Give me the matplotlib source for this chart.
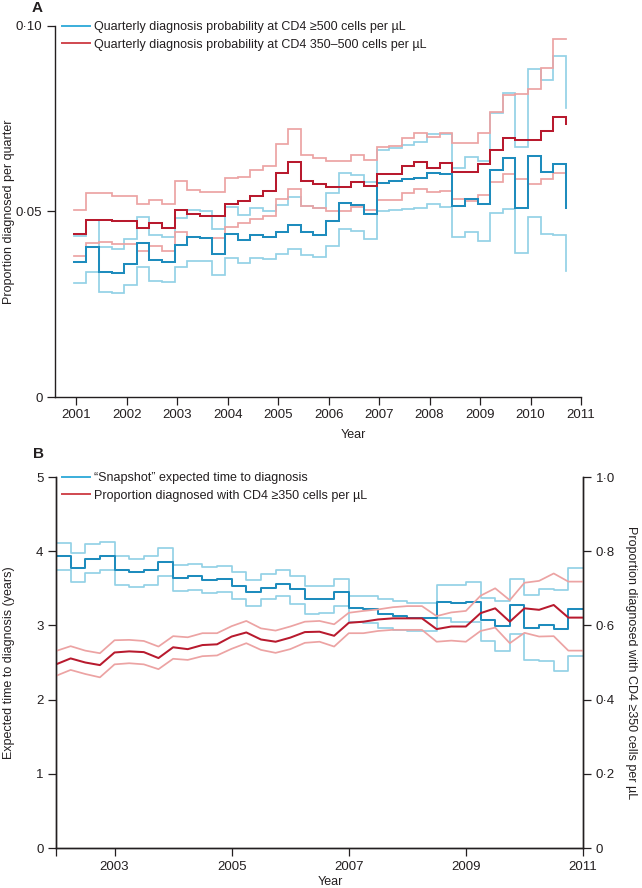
import numpy as np
import matplotlib
matplotlib.use("Agg")
import matplotlib.pyplot as plt
from matplotlib.lines import Line2D

plt.rcParams['font.family'] = ['Liberation Sans Narrow', 'Liberation Sans', 'DejaVu Sans']
FS_TICK = 9.5
FS = 9

# ---------------- Panel A data (quarterly, 2001 Q1 .. 2010 Q3) ----------------
first_quarter_A = 2000.95
# last element of each list = value at the end stub of the step line
cd4_500_est = [0.0365, 0.0403, 0.0338, 0.0333, 0.0358, 0.0414, 0.0369, 0.0365, 0.0410, 0.0430,
               0.0428, 0.0385, 0.0439, 0.0422, 0.0438, 0.0432, 0.0446, 0.0464, 0.0446, 0.0438,
               0.0475, 0.0522, 0.0518, 0.0492, 0.0576, 0.0582, 0.0587, 0.0589, 0.0605, 0.0601,
               0.0516, 0.0535, 0.0520, 0.0612, 0.0643, 0.0509, 0.0650, 0.0607, 0.0627, 0.0509]
cd4_500_hi = [0.0434, 0.0477, 0.0405, 0.0398, 0.0425, 0.0486, 0.0437, 0.0430, 0.0482, 0.0504,
              0.0500, 0.0452, 0.0512, 0.0491, 0.0509, 0.0500, 0.0518, 0.0538, 0.0515, 0.0509,
              0.0549, 0.0605, 0.0598, 0.0580, 0.0666, 0.0670, 0.0680, 0.0688, 0.0708, 0.0708,
              0.0616, 0.0648, 0.0637, 0.0766, 0.0820, 0.0675, 0.0884, 0.0854, 0.0920, 0.0780]
cd4_500_lo = [0.0306, 0.0338, 0.0284, 0.0281, 0.0302, 0.0351, 0.0314, 0.0309, 0.0351, 0.0367,
              0.0367, 0.0329, 0.0376, 0.0360, 0.0376, 0.0372, 0.0385, 0.0399, 0.0383, 0.0378,
              0.0408, 0.0452, 0.0447, 0.0425, 0.0500, 0.0504, 0.0508, 0.0509, 0.0519, 0.0511,
              0.0430, 0.0444, 0.0421, 0.0495, 0.0506, 0.0387, 0.0486, 0.0439, 0.0437, 0.0340]
cd4_350_est = [0.0440, 0.0476, 0.0478, 0.0474, 0.0474, 0.0455, 0.0469, 0.0455, 0.0505, 0.0492,
               0.0489, 0.0489, 0.0519, 0.0528, 0.0543, 0.0555, 0.0604, 0.0633, 0.0582, 0.0573,
               0.0565, 0.0565, 0.0579, 0.0568, 0.0600, 0.0600, 0.0622, 0.0633, 0.0618, 0.0631,
               0.0606, 0.0606, 0.0628, 0.0667, 0.0699, 0.0692, 0.0692, 0.0718, 0.0755, 0.0737]
cd4_350_hi = [0.0505, 0.0550, 0.0550, 0.0541, 0.0541, 0.0519, 0.0531, 0.0519, 0.0581, 0.0558,
              0.0552, 0.0552, 0.0589, 0.0594, 0.0612, 0.0622, 0.0681, 0.0723, 0.0653, 0.0644,
              0.0635, 0.0635, 0.0651, 0.0638, 0.0673, 0.0676, 0.0699, 0.0711, 0.0702, 0.0712,
              0.0685, 0.0685, 0.0712, 0.0767, 0.0815, 0.0817, 0.0830, 0.0887, 0.0965, 0.0965]
cd4_350_lo = [0.0381, 0.0414, 0.0419, 0.0412, 0.0412, 0.0394, 0.0408, 0.0394, 0.0444, 0.0430,
              0.0428, 0.0428, 0.0458, 0.0468, 0.0479, 0.0488, 0.0533, 0.0560, 0.0515, 0.0509,
              0.0500, 0.0500, 0.0513, 0.0504, 0.0531, 0.0531, 0.0551, 0.0561, 0.0552, 0.0556,
              0.0533, 0.0529, 0.0544, 0.0579, 0.0600, 0.0587, 0.0573, 0.0588, 0.0603, 0.0574]
years_A = list(range(2001, 2012))
yticks_A = [0, 0.05, 0.10]
yticklabels_A = ["0", "0·05", "0·10"]

# ---------------- Panel B data (quarterly, 2002 .. 2011) ----------------
first_quarter_B = 2002.0
time_est = [3.93, 3.78, 3.90, 3.94, 3.74, 3.72, 3.74, 3.86, 3.64, 3.66, 3.61, 3.63,
            3.53, 3.45, 3.51, 3.56, 3.49, 3.35, 3.35, 3.45, 3.23, 3.22, 3.15, 3.13,
            3.10, 3.10, 3.32, 3.30, 3.31, 3.07, 2.99, 3.27, 2.97, 3.01, 2.95, 3.22]
time_hi = [4.11, 3.98, 4.10, 4.13, 3.93, 3.90, 3.93, 4.04, 3.82, 3.83, 3.79, 3.80,
           3.72, 3.61, 3.69, 3.74, 3.66, 3.53, 3.53, 3.63, 3.40, 3.40, 3.36, 3.33,
           3.30, 3.30, 3.55, 3.54, 3.58, 3.37, 3.33, 3.63, 3.41, 3.49, 3.48, 3.77]
time_lo = [3.74, 3.59, 3.70, 3.74, 3.54, 3.52, 3.54, 3.67, 3.47, 3.48, 3.44, 3.45,
           3.36, 3.26, 3.36, 3.39, 3.29, 3.16, 3.17, 3.26, 3.04, 3.03, 2.97, 2.94,
           2.92, 2.92, 3.10, 3.05, 3.04, 2.79, 2.65, 2.89, 2.53, 2.52, 2.39, 2.59]
prop_est = [0.495, 0.511, 0.500, 0.493, 0.527, 0.530, 0.528, 0.512, 0.541, 0.536, 0.547, 0.549,
            0.570, 0.581, 0.562, 0.556, 0.567, 0.582, 0.583, 0.572, 0.607, 0.610, 0.616, 0.619,
            0.619, 0.619, 0.590, 0.597, 0.597, 0.633, 0.646, 0.610, 0.646, 0.642, 0.655, 0.621, 0.621]
prop_hi = [0.531, 0.544, 0.532, 0.525, 0.560, 0.561, 0.558, 0.543, 0.571, 0.568, 0.579, 0.579,
           0.598, 0.612, 0.592, 0.586, 0.597, 0.610, 0.612, 0.603, 0.634, 0.639, 0.643, 0.649,
           0.652, 0.652, 0.625, 0.635, 0.639, 0.680, 0.700, 0.668, 0.715, 0.720, 0.740, 0.718, 0.718]
prop_lo = [0.464, 0.480, 0.469, 0.460, 0.495, 0.498, 0.495, 0.482, 0.510, 0.507, 0.517, 0.519,
           0.537, 0.552, 0.534, 0.526, 0.536, 0.553, 0.556, 0.543, 0.579, 0.579, 0.585, 0.588,
           0.588, 0.588, 0.556, 0.559, 0.556, 0.585, 0.594, 0.552, 0.580, 0.570, 0.571, 0.532, 0.532]
years_B = [2003, 2005, 2007, 2009, 2011]
yticks_B_left = [0, 1, 2, 3, 4, 5]
yticks_B_right = [0, 0.2, 0.4, 0.6, 0.8, 1.0]
yticklabels_B_right = ["0", "0·2", "0·4", "0·6", "0·8", "1·0"]

# ---------------- styles ----------------
C_BLUE_L = '#93d2e6'
C_BLUE_D = '#1e8cbd'
C_RED_L = '#eca3a3'
C_RED_D = '#b81a2e'
C_LEG_BLUE = '#3aaedb'
C_LEG_RED = '#d0474f'
LW_L = 1.25
LW_D = 1.45
AX_C = '#231f20'

W, H = 642, 888
fig = plt.figure(figsize=(W / 100, H / 100), dpi=100)


def fx(px):
    return px / W


def fy(py):
    return 1 - py / H


def style_ticks(ax):
    ax.tick_params(direction='out', length=6, width=0.9, colors=AX_C, labelsize=FS_TICK, pad=3)


# ---------------- Panel A ----------------
axA = fig.add_axes([fx(55), fy(397), fx(581) - fx(55), fy(26) - fy(397)])
wA = fx(581) - fx(55)
edges_A = first_quarter_A + 0.25 * np.arange(len(cd4_500_est))
for vals, col, lw in [(cd4_500_hi, C_BLUE_L, LW_L), (cd4_500_lo, C_BLUE_L, LW_L),
                      (cd4_350_hi, C_RED_L, LW_L), (cd4_350_lo, C_RED_L, LW_L),
                      (cd4_500_est, C_BLUE_D, LW_D), (cd4_350_est, C_RED_D, LW_D)]:
    axA.step(edges_A, vals, where='post', color=col, lw=lw, solid_joinstyle='miter')
axA.set_xlim(2000.58, 2011)
axA.set_ylim(0, 0.10)
axA.set_xticks(years_A)
axA.set_xticklabels([str(y) for y in years_A])
axA.set_yticks(yticks_A)
axA.set_yticklabels(yticklabels_A)
for s in ['top', 'right']:
    axA.spines[s].set_visible(False)
for s in ['left', 'bottom']:
    axA.spines[s].set_linewidth(1.0)
    axA.spines[s].set_color(AX_C)
style_ticks(axA)
axA.set_ylabel("Proportion diagnosed per quarter", fontsize=FS, color=AX_C)
axA.yaxis.set_label_coords((15 - 55) / 642 / wA, 0.5)
axA.set_xlabel("Year", fontsize=FS, color=AX_C)
axA.xaxis.set_label_coords(0.568, -0.085)
legA = [Line2D([], [], color=C_LEG_BLUE, lw=1.4), Line2D([], [], color=C_LEG_RED, lw=1.4)]
fig.legend(legA, ["Quarterly diagnosis probability at CD4 ≥500 cells per µL",
                  "Quarterly diagnosis probability at CD4 350–500 cells per µL"],
           loc='upper left', bbox_to_anchor=(fx(62), fy(21)), frameon=False, fontsize=FS,
           handlelength=2.2, handletextpad=0.4, labelspacing=0.45, borderpad=0, borderaxespad=0,
           labelcolor=AX_C)
fig.text(fx(37), fy(8), "A", fontsize=11, fontweight='bold', color=AX_C, ha='center', va='center')

# ---------------- Panel B ----------------
axB = fig.add_axes([fx(56), fy(848), fx(583) - fx(56), fy(477) - fy(848)])
wB = fx(583) - fx(56)
axB2 = axB.twinx()
edges_B = first_quarter_B + 0.25 * np.arange(len(time_est) + 1)
pts_B = first_quarter_B + 0.25 * np.arange(len(prop_est))
for vals, col, lw in [(time_hi, C_BLUE_L, LW_L), (time_lo, C_BLUE_L, LW_L), (time_est, C_BLUE_D, LW_D)]:
    axB.step(edges_B, list(vals) + [vals[-1]], where='post', color=col, lw=lw)
for vals, col, lw in [(prop_hi, C_RED_L, LW_L), (prop_lo, C_RED_L, LW_L), (prop_est, C_RED_D, LW_D)]:
    axB2.plot(pts_B, vals, color=col, lw=lw)
axB.set_xlim(2002, 2011)
axB.set_ylim(0, 5)
axB2.set_ylim(0, 1)
axB.set_xticks(years_B)
axB.set_xticks([2002], minor=True)
axB.set_xticklabels([str(y) for y in years_B])
axB.set_yticks(yticks_B_left)
axB.set_yticklabels([str(v) for v in yticks_B_left])
axB2.set_yticks(yticks_B_right)
axB2.set_yticklabels(yticklabels_B_right)
for a in (axB, axB2):
    a.spines['top'].set_visible(False)
    for s in ['left', 'right', 'bottom']:
        a.spines[s].set_linewidth(1.0)
        a.spines[s].set_color(AX_C)
    style_ticks(a)
axB.tick_params(which='minor', direction='out', length=6, width=0.9, colors=AX_C)
axB.set_ylabel("Expected time to diagnosis (years)", fontsize=FS, color=AX_C)
axB.yaxis.set_label_coords((15 - 56) / 642 / wB, 0.5)
axB2.set_ylabel("Proportion diagnosed with CD4 ≥350 cells per µL", fontsize=FS, color=AX_C,
                rotation=270, labelpad=16)
axB.set_xlabel("Year", fontsize=FS, color=AX_C)
axB.xaxis.set_label_coords(0.52, -0.075)
legB = [Line2D([], [], color=C_LEG_BLUE, lw=1.4), Line2D([], [], color=C_LEG_RED, lw=1.4)]
fig.legend(legB, ["“Snapshot” expected time to diagnosis",
                  "Proportion diagnosed with CD4 ≥350 cells per µL"],
           loc='upper left', bbox_to_anchor=(fx(62), fy(472)), frameon=False, fontsize=FS,
           handlelength=2.2, handletextpad=0.4, labelspacing=0.45, borderpad=0, borderaxespad=0,
           labelcolor=AX_C)
fig.text(fx(38), fy(454), "B", fontsize=11, fontweight='bold', color=AX_C, ha='center', va='center')

fig.savefig("out.png", dpi=100)
